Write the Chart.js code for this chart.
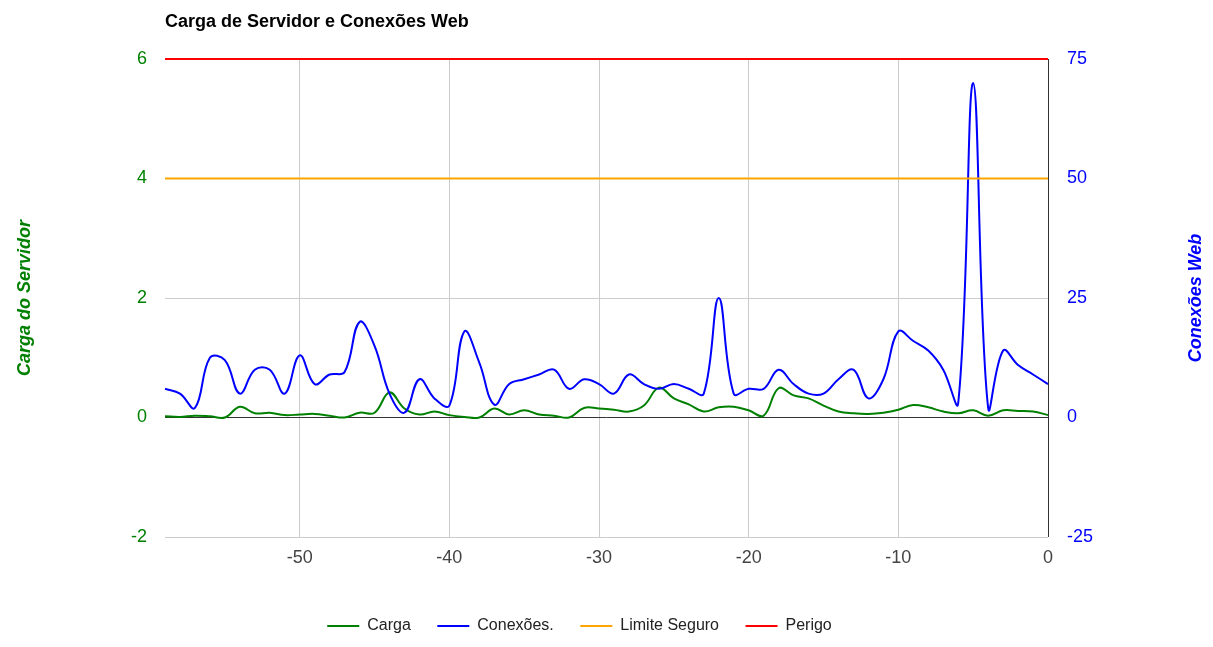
<!DOCTYPE html>
<html lang="pt">
<head>
<meta charset="utf-8">
<title>Carga de Servidor e Conexões Web</title>
<script src="https://cdn.jsdelivr.net/npm/chart.js@4/dist/chart.umd.min.js"></script>
<style>
  html, body { margin: 0; padding: 0; background: #fff; }
  #wrap { position: relative; width: 1213px; height: 647px; }
</style>
</head>
<body>
<div id="wrap"><canvas id="serverChart"></canvas></div>
<script>
'use strict';

const chartTitle = 'Carga de Servidor e Conexões Web';
const leftAxisTitle = 'Carga do Servidor';
const rightAxisTitle = 'Conexões Web';

const seconds = [-59, -58, -57, -56, -55, -54, -53, -52, -51, -50,
  -49, -48, -47, -46, -45, -44, -43, -42, -41, -40,
  -39, -38, -37, -36, -35, -34, -33, -32, -31, -30,
  -29, -28, -27, -26, -25, -24, -23, -22, -21, -20,
  -19, -18, -17, -16, -15, -14, -13, -12, -11, -10,
  -9, -8, -7, -6, -5, -4, -3, -2, -1, 0];

const carga = [0.02, 0.01, 0.03, 0.02, 0, 0.18, 0.07, 0.08, 0.04, 0.05,
  0.06, 0.03, 0, 0.08, 0.08, 0.42, 0.15, 0.05, 0.1, 0.04,
  0.01, 0, 0.15, 0.05, 0.12, 0.05, 0.03, 0, 0.16, 0.15,
  0.13, 0.1, 0.2, 0.5, 0.32, 0.22, 0.1, 0.17, 0.18, 0.12,
  0.03, 0.49, 0.37, 0.32, 0.2, 0.1, 0.07, 0.06, 0.08, 0.13,
  0.21, 0.17, 0.1, 0.07, 0.12, 0.03, 0.12, 0.11, 0.1, 0.04];

const conexoes = [6, 5, 2, 12.5, 12, 5, 10, 10, 5, 13,
  7, 9, 9.5, 20, 15, 5, 1, 8, 4, 2.5,
  18, 11.5, 2.7, 7, 8, 9, 10, 6, 8, 7,
  5, 9, 7, 6, 7, 6, 5, 25, 5, 6,
  6, 10, 7, 5, 5, 8, 10, 4, 8, 18,
  16, 14, 10, 3, 70, 2, 14, 11, 9, 7];

const limiteSeguro = [4, 4, 4, 4, 4, 4, 4, 4, 4, 4,
  4, 4, 4, 4, 4, 4, 4, 4, 4, 4,
  4, 4, 4, 4, 4, 4, 4, 4, 4, 4,
  4, 4, 4, 4, 4, 4, 4, 4, 4, 4,
  4, 4, 4, 4, 4, 4, 4, 4, 4, 4,
  4, 4, 4, 4, 4, 4, 4, 4, 4, 4];

const perigo = [6, 6, 6, 6, 6, 6, 6, 6, 6, 6,
  6, 6, 6, 6, 6, 6, 6, 6, 6, 6,
  6, 6, 6, 6, 6, 6, 6, 6, 6, 6,
  6, 6, 6, 6, 6, 6, 6, 6, 6, 6,
  6, 6, 6, 6, 6, 6, 6, 6, 6, 6,
  6, 6, 6, 6, 6, 6, 6, 6, 6, 6];

const xTicks = [-50, -40, -30, -20, -10, 0];
const leftTicks = [-2, 0, 2, 4, 6];
const rightTicks = [-25, 0, 25, 50, 75];

const FONT = '"Liberation Sans", Arial, sans-serif';

const points = vals => vals.map((v, i) => ({ x: seconds[i], y: v }));
const gridColor = ctx => (ctx.tick && ctx.tick.value === 0 ? '#333333' : '#cccccc');

// title + right axis title (Chart.js would rotate the right one the other way)
const extraText = {
  id: 'extraText',
  afterLayout(chart) {
    // legend sits a bit left of centre in the original
    chart.legend.left -= 27;
    chart.legend.right -= 27;
  },
  afterDraw(chart) {
    const { ctx, chartArea } = chart;
    ctx.save();
    ctx.font = `bold 18px ${FONT}`;
    ctx.fillStyle = '#000';
    ctx.textAlign = 'left';
    ctx.textBaseline = 'alphabetic';
    ctx.fillText(chartTitle, chartArea.left, 26.5);

    ctx.translate(1196.5, (chartArea.top + chartArea.bottom) / 2);
    ctx.rotate(-Math.PI / 2);
    ctx.font = `italic bold 18px ${FONT}`;
    ctx.fillStyle = '#0000ff';
    ctx.textAlign = 'center';
    ctx.textBaseline = 'middle';
    ctx.fillText(rightAxisTitle, 0, 0);
    ctx.restore();
  },
};

const line = (label, data, color, axis, order) => ({
  label,
  data: points(data),
  borderColor: color,
  backgroundColor: color,
  borderWidth: 2,
  pointRadius: 0,
  pointHoverRadius: 0,
  tension: 0.4,
  fill: false,
  clip: 3,
  yAxisID: axis,
  order,
});

new Chart(document.getElementById('serverChart'), {
  type: 'line',
  data: {
    datasets: [
      line('Carga', carga, '#008000', 'y', 4),
      line('Conexões.', conexoes, '#0000ff', 'y1', 3),
      line('Limite Seguro', limiteSeguro, '#ffa500', 'y', 2),
      line('Perigo', perigo, '#ff0000', 'y', 1),
    ],
  },
  options: {
    responsive: true,
    maintainAspectRatio: false,
    animation: false,
    layout: { padding: { top: 59, bottom: 3, left: 0, right: 0 } },
    plugins: {
      title: { display: false },
      tooltip: { enabled: false },
      legend: {
        position: 'bottom',
        reverse: true,
        labels: {
          usePointStyle: true,
          pointStyle: 'line',
          pointStyleWidth: 32,
          padding: 26.5,
          color: '#222',
          font: { family: FONT, size: 16 },
        },
      },
    },
    scales: {
      x: {
        type: 'linear',
        min: -59,
        max: 0,
        afterBuildTicks: s => { s.ticks = xTicks.map(v => ({ value: v })); },
        afterFit: s => { s.height = 54.5; },
        border: { display: false },
        grid: { color: gridColor, drawTicks: false },
        ticks: {
          padding: 10,
          color: '#444',
          font: { family: FONT, size: 18 },
          maxRotation: 0,
          callback: v => String(v),
        },
      },
      y: {
        position: 'left',
        min: -2,
        max: 6,
        afterBuildTicks: s => { s.ticks = leftTicks.map(v => ({ value: v })); },
        afterFit: s => { s.width = 165; },
        border: { display: false },
        grid: { color: gridColor, drawTicks: false },
        ticks: {
          padding: 18,
          color: '#008000',
          font: { family: FONT, size: 18 },
          callback: v => String(v),
        },
        title: {
          display: true,
          text: leftAxisTitle,
          color: '#008000',
          padding: { top: 14 },
          font: { family: FONT, size: 18, weight: 'bold', style: 'italic' },
        },
      },
      y1: {
        position: 'right',
        min: -25,
        max: 75,
        afterBuildTicks: s => { s.ticks = rightTicks.map(v => ({ value: v })); },
        afterFit: s => { s.width = 165; },
        border: { display: false },
        grid: { display: false, drawTicks: false },
        ticks: {
          padding: 19,
          color: '#0000ff',
          font: { family: FONT, size: 18 },
          callback: v => String(v),
        },
      },
    },
  },
  plugins: [extraText],
});
</script>
</body>
</html>
